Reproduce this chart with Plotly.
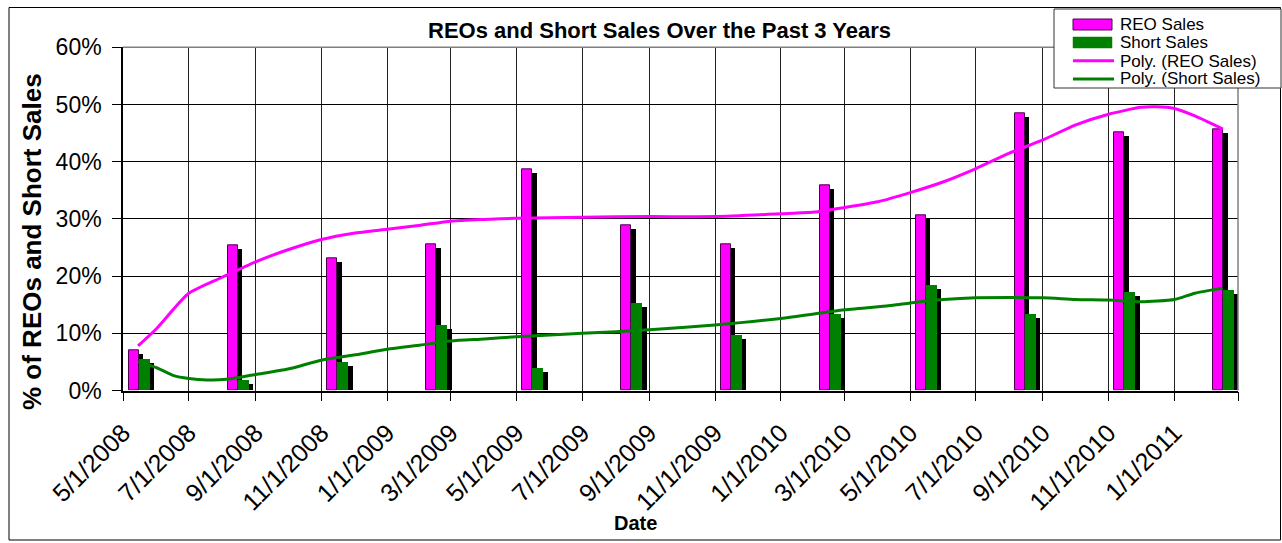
import plotly.graph_objects as go

# ---------------- data ----------------
dates = ["2008-05-15", "2008-08-15", "2008-11-15", "2009-02-15", "2009-05-15", "2009-08-15",
         "2009-11-15", "2010-02-15", "2010-05-15", "2010-08-15", "2010-11-15", "2011-02-15"]
reo_sales = [7.0, 25.3, 23.1, 25.6, 38.7, 28.8, 25.6, 35.8, 30.7, 48.5, 45.2, 45.7]
short_sales = [5.45, 1.7, 5.0, 11.45, 3.9, 15.2, 9.6, 13.4, 18.4, 13.4, 17.2, 17.6]

trend_reo_dates = ["2008-05-15", "2008-06-01", "2008-07-01", "2008-08-01", "2008-09-01", "2008-10-01",
                   "2008-11-01", "2008-12-01", "2009-01-01", "2009-02-01", "2009-03-01", "2009-04-01",
                   "2009-05-01", "2009-07-01", "2009-09-01", "2009-11-01", "2010-01-01", "2010-02-01",
                   "2010-03-01", "2010-04-01", "2010-05-01", "2010-06-01", "2010-07-01", "2010-08-01",
                   "2010-09-01", "2010-10-01", "2010-11-01", "2010-12-01", "2010-12-15", "2011-01-01",
                   "2011-01-20", "2011-02-15"]
trend_reo = [7.8, 10.8, 17.0, 19.8, 22.5, 24.6,
             26.4, 27.5, 28.2, 28.9, 29.6, 29.9,
             30.1, 30.3, 30.4, 30.4, 30.9, 31.2,
             32.0, 33.0, 34.6, 36.5, 38.8, 41.5,
             43.8, 46.4, 48.3, 49.5, 49.6, 49.3,
             48.0, 45.7]

trend_short_dates = ["2008-05-15", "2008-06-01", "2008-06-17", "2008-07-01", "2008-07-18", "2008-08-05",
                     "2008-09-01", "2008-10-01", "2008-11-01", "2008-12-01", "2009-01-01", "2009-02-01",
                     "2009-03-01", "2009-04-01", "2009-05-01", "2009-07-01", "2009-09-01", "2009-11-01",
                     "2010-01-01", "2010-03-01", "2010-04-15", "2010-05-01", "2010-06-01", "2010-07-01",
                     "2010-09-01", "2010-10-01", "2010-11-01", "2010-12-01", "2011-01-01", "2011-01-20",
                     "2011-02-15"]
trend_short = [5.0, 4.0, 2.6, 2.1, 1.85, 1.95,
               2.8, 3.75, 5.3, 6.2, 7.2, 7.95,
               8.65, 9.0, 9.4, 10.0, 10.6, 11.45,
               12.6, 14.1, 14.9, 15.3, 15.9, 16.2,
               16.2, 15.9, 15.8, 15.5, 15.9, 17.0,
               17.9]

tick_dates = ["2008-05-01", "2008-07-01", "2008-09-01", "2008-11-01", "2009-01-01", "2009-03-01",
              "2009-05-01", "2009-07-01", "2009-09-01", "2009-11-01", "2010-01-01", "2010-03-01",
              "2010-05-01", "2010-07-01", "2010-09-01", "2010-11-01", "2011-01-01", "2011-03-01"]
tick_labels = ["5/1/2008", "7/1/2008", "9/1/2008", "11/1/2008", "1/1/2009", "3/1/2009",
               "5/1/2009", "7/1/2009", "9/1/2009", "11/1/2009", "1/1/2010", "3/1/2010",
               "5/1/2010", "7/1/2010", "9/1/2010", "11/1/2010", "1/1/2011", ""]

# ---------------- geometry helpers ----------------
W, H = 1282, 543
PLOT_L, PLOT_R, PLOT_T, PLOT_B = 123, 1238, 47.3, 390.5
X_START, X_END = "2008-05-01", "2011-03-01"
MS_PER_PX = 1034 * 86400000 / (PLOT_R - PLOT_L)
PCT_PER_PX = 60.0 / (PLOT_B - PLOT_T)


def px(x):
    return x / W


def py(y):
    return 1 - y / H


MAGENTA = "#FF00FF"
GREEN = "#008000"
FONT = "Liberation Sans, Arial, sans-serif"

shadow_dy = 4 * PCT_PER_PX

fig = go.Figure()

# shadows + bars
fig.add_trace(go.Bar(x=dates, y=[v - shadow_dy for v in reo_sales], width=10 * MS_PER_PX,
                     offset=-5 * MS_PER_PX, marker=dict(color="black", line=dict(width=0)),
                     showlegend=False, hoverinfo="skip"))
fig.add_trace(go.Bar(x=dates, y=reo_sales, name="REO Sales", width=10 * MS_PER_PX,
                     offset=-9.5 * MS_PER_PX,
                     marker=dict(color=MAGENTA, line=dict(color="#4d004d", width=1)),
                     showlegend=False))
fig.add_trace(go.Bar(x=dates, y=[v - shadow_dy for v in short_sales], width=11 * MS_PER_PX,
                     offset=5 * MS_PER_PX, marker=dict(color="black", line=dict(width=0)),
                     showlegend=False, hoverinfo="skip"))
fig.add_trace(go.Bar(x=dates, y=short_sales, name="Short Sales", width=11 * MS_PER_PX,
                     offset=0.5 * MS_PER_PX, marker=dict(color=GREEN, line=dict(width=0)),
                     showlegend=False))

# trendlines
fig.add_trace(go.Scatter(x=trend_reo_dates, y=trend_reo, mode="lines", name="Poly. (REO Sales)",
                         line=dict(color=MAGENTA, width=3, shape="spline", smoothing=0.6),
                         showlegend=False))
fig.add_trace(go.Scatter(x=trend_short_dates, y=trend_short, mode="lines", name="Poly. (Short Sales)",
                         line=dict(color=GREEN, width=3, shape="spline", smoothing=0.6),
                         showlegend=False))

shapes = []
annotations = []

# outer frame
shapes.append(dict(type="rect", xref="paper", yref="paper", x0=px(9), x1=px(1280.5), y0=py(540), y1=py(7.5),
                   line=dict(color="black", width=1), layer="below"))
# plot area top & right border (gray)
shapes.append(dict(type="line", xref="paper", yref="paper", x0=px(PLOT_L), x1=px(PLOT_R),
                   y0=py(PLOT_T), y1=py(PLOT_T), line=dict(color="#808080", width=1.5)))
shapes.append(dict(type="line", xref="paper", yref="paper", x0=px(PLOT_R), x1=px(PLOT_R),
                   y0=py(PLOT_B), y1=py(PLOT_T), line=dict(color="#808080", width=1.5)))

# legend (manual, Excel style)
shapes.append(dict(type="rect", xref="paper", yref="paper", x0=px(1054), x1=px(1281), y0=py(88), y1=py(9),
                   line=dict(color="#333333", width=1), fillcolor="white", layer="above"))
shapes.append(dict(type="rect", xref="paper", yref="paper", x0=px(1073), x1=px(1112), y0=py(30), y1=py(19),
                   line=dict(color="#4d004d", width=1), fillcolor=MAGENTA, layer="above"))
shapes.append(dict(type="rect", xref="paper", yref="paper", x0=px(1073), x1=px(1112), y0=py(48), y1=py(37),
                   line=dict(color=GREEN, width=0.5), fillcolor=GREEN, layer="above"))
shapes.append(dict(type="line", xref="paper", yref="paper", x0=px(1073), x1=px(1114), y0=py(60.7), y1=py(60.7),
                   line=dict(color=MAGENTA, width=3), layer="above"))
shapes.append(dict(type="line", xref="paper", yref="paper", x0=px(1073), x1=px(1114), y0=py(79), y1=py(79),
                   line=dict(color=GREEN, width=3), layer="above"))
legend_names = ["REO Sales", "Short Sales", "Poly. (REO Sales)", "Poly. (Short Sales)"]
legend_y = [24.5, 42.5, 61, 78.5]
for name, ly in zip(legend_names, legend_y):
    annotations.append(dict(text=name, xref="paper", yref="paper", x=px(1118), y=py(ly), xanchor="left",
                            yanchor="middle", showarrow=False, font=dict(family=FONT, size=17, color="black")))

# titles
annotations.append(dict(text="<b>REOs and Short Sales Over the Past 3 Years</b>", xref="paper", yref="paper",
                        x=px(659), y=py(31), xanchor="center", yanchor="middle", showarrow=False,
                        font=dict(family=FONT, size=22, color="black")))
annotations.append(dict(text="<b>% of REOs and Short Sales</b>", xref="paper", yref="paper",
                        x=px(32), y=py(242), xanchor="center", yanchor="middle", textangle=-90,
                        showarrow=False, font=dict(family=FONT, size=26, color="black")))
annotations.append(dict(text="<b>Date</b>", xref="paper", yref="paper",
                        x=px(635), y=py(523), xanchor="center", yanchor="middle",
                        showarrow=False, font=dict(family=FONT, size=20, color="black")))

fig.update_layout(
    width=W, height=H,
    margin=dict(l=0, r=0, t=0, b=0),
    paper_bgcolor="white", plot_bgcolor="white",
    barmode="overlay", bargap=0,
    showlegend=False,
    font=dict(family=FONT, color="black"),
    shapes=shapes, annotations=annotations,
    xaxis=dict(
        type="date", domain=[px(PLOT_L), px(PLOT_R)], range=[X_START, X_END],
        tickvals=tick_dates, ticktext=tick_labels, tickangle=-45,
        tickfont=dict(family=FONT, size=25, color="black"),
        ticks="outside", ticklen=9, tickcolor="black", tickwidth=1, ticklabelstandoff=7,
        showgrid=True, gridcolor="#222222", gridwidth=1,
        showline=True, linecolor="black", linewidth=1.5,
        zeroline=False, automargin=False, fixedrange=True,
    ),
    yaxis=dict(
        domain=[py(PLOT_B), py(PLOT_T)], range=[0, 60], dtick=10, ticksuffix="%",
        tickfont=dict(family=FONT, size=23, color="black"),
        ticks="outside", ticklen=9, tickcolor="black", tickwidth=1, ticklabelstandoff=6,
        showgrid=True, gridcolor="black", gridwidth=1,
        showline=True, linecolor="black", linewidth=1.5,
        zeroline=False, automargin=False, fixedrange=True,
    ),
)

fig.write_html("out.html", config={"displayModeBar": False},
               post_script="document.body.style.margin='0';document.body.style.overflow='hidden';")
